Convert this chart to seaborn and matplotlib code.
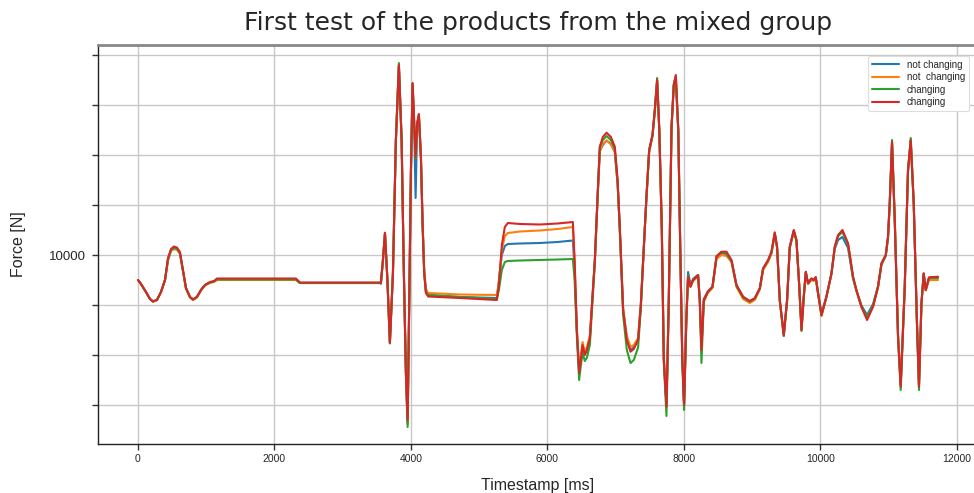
import matplotlib
matplotlib.use("Agg")
import matplotlib.pyplot as plt
import matplotlib.ticker as mticker
import seaborn as sns
import pandas as pd

timestamps = [0, 44, 117, 176, 220, 278, 337, 396, 440, 484, 527, 571, 615, 659, 703, 762, 806, 864, 923, 982,
              1055, 1114, 1158, 2315, 2374, 3546, 3560, 3590, 3620, 3656, 3692, 3737, 3780, 3824, 3864, 3897,
              3927, 3952, 3975, 4000, 4025, 4048, 4069, 4092, 4117, 4147, 4171, 4195, 4220, 4253, 4718, 5260,
              5290, 5333, 5377, 5421, 5600, 5890, 6150, 6374, 6400, 6432, 6466, 6490, 6516, 6549, 6580, 6623,
              6696, 6740, 6769, 6813, 6868, 6931, 6989, 7030, 7062, 7111, 7165, 7219, 7267, 7330, 7370, 7404,
              7450, 7492, 7541, 7575, 7609, 7641, 7677, 7707, 7746, 7780, 7820, 7853, 7883, 7919, 7951, 7978,
              8004, 8037, 8063, 8098, 8136, 8186, 8209, 8234, 8259, 8293, 8352, 8420, 8479, 8552, 8626, 8699,
              8772, 8869, 8967, 9040, 9114, 9162, 9235, 9285, 9333, 9367, 9407, 9465, 9514, 9553, 9612, 9651,
              9690, 9725, 9758, 9788, 9821, 9871, 9905, 9934, 9968, 10018, 10090, 10164, 10212, 10261, 10325,
              10407, 10481, 10530, 10604, 10686, 10774, 10847, 10897, 10960, 10993, 11018, 11052, 11092, 11140,
              11179, 11238, 11286, 11326, 11370, 11416, 11447, 11483, 11516, 11546, 11594, 11726]

# changing (red, drawn last)
changing_b = [9500, 9420, 9260, 9120, 9070, 9100, 9260, 9500, 9940, 10120, 10170, 10150, 10060, 9700, 9340, 9160, 9110, 9160, 9300, 9400,
              9460, 9480, 9530, 9530, 9450, 9450, 9440, 9900, 10446, 9500, 8240, 9640, 12300, 13800, 12300, 9640,
              7640, 6700, 8960, 11640, 13440, 12640, 11960, 12640, 12820, 11960, 10640, 9640, 9240, 9170, 9140, 9100,
              9400, 10200, 10560, 10640, 10620, 10610, 10630, 10660, 9900, 8500, 7640, 7900, 8200, 8000, 8100, 8340,
              9900, 11300, 12166, 12360, 12446, 12360, 12166, 11500, 10566, 8900, 8300, 8066, 8120, 8300, 9000, 9900,
              11100, 12100, 12400, 12900, 13500, 12500, 10566, 7900, 6966, 9100, 12566, 13400, 13600, 12500, 9900, 7900,
              7000, 8700, 9566, 9366, 9500, 9566, 9600, 9100, 8100, 9100, 9266, 9366, 9966, 10066, 10066, 9900,
              9400, 9166, 9080, 9134, 9334, 9734, 9900, 10066, 10454, 10166, 9100, 8400, 9100, 10166, 10500, 10300,
              9434, 8500, 9166, 9666, 9434, 9534, 9500, 9560, 9234, 8800, 9166, 9634, 10166, 10400, 10500,
              10234, 9566, 9300, 8966, 8700, 8966, 9366, 9834, 10000, 10366, 11040, 12266, 10700, 8366,
              7366, 9366, 11700, 12300, 11034, 8700, 7366, 9034, 9634, 9300, 9554, 9566]

# not changing (blue)
not_changing_a = [9500, 9420, 9260, 9120, 9070, 9100, 9260, 9500, 9900, 10090, 10120, 10110, 10030, 9690, 9340, 9160, 9110, 9160, 9300, 9400,
                  9450, 9470, 9510, 9510, 9440, 9440, 9430, 9890, 10430, 9500, 8250, 9640, 12280, 13780, 12280, 9640,
                  7660, 6640, 8960, 11620, 13420, 12600, 11140, 12600, 12800, 11960, 10640, 9660, 9280, 9200, 9160, 9140,
                  9500, 10000, 10180, 10220, 10230, 10240, 10260, 10290, 9700, 8500, 7660, 7900, 8200, 8020, 8100, 8340,
                  9880, 11250, 12080, 12200, 12290, 12220, 12060, 11420, 10520, 8900, 8320, 8100, 8150, 8320, 9000, 9880,
                  11080, 12060, 12380, 12880, 13480, 12480, 10560, 7920, 7000, 9100, 12540, 13380, 13480, 12480, 9900, 7920,
                  7000, 8720, 9660, 9400, 9520, 9580, 9600, 9120, 8200, 9120, 9270, 9360, 9940, 10040, 10020, 9880,
                  9400, 9160, 9070, 9130, 9330, 9720, 9880, 10040, 10420, 10150, 9100, 8420, 9110, 10150, 10470, 10280,
                  9430, 8520, 9170, 9650, 9440, 9520, 9500, 9540, 9240, 8820, 9170, 9620, 10120, 10300, 10360,
                  10140, 9520, 9290, 8990, 8800, 9020, 9380, 9800, 9980, 10340, 11000, 12220, 10680, 8380,
                  7400, 9360, 11660, 12260, 11020, 8720, 7400, 9030, 9620, 9300, 9540, 9560]

# not  changing (orange)
not_changing_b = [9500, 9420, 9260, 9120, 9070, 9100, 9260, 9500, 9900, 10090, 10120, 10110, 10030, 9690, 9330, 9150, 9100, 9150, 9290, 9390,
                  9440, 9460, 9500, 9500, 9440, 9440, 9430, 9890, 10430, 9500, 8250, 9640, 12280, 13780, 12280, 9640,
                  7650, 6620, 8960, 11620, 13420, 12620, 11940, 12620, 12800, 11960, 10660, 9700, 9320, 9240, 9210, 9200,
                  9450, 10100, 10380, 10440, 10470, 10490, 10520, 10560, 9800, 8520, 7740, 7960, 8260, 8060, 8160, 8380,
                  9880, 11250, 12080, 12220, 12290, 12220, 12060, 11420, 10520, 8920, 8380, 8160, 8200, 8340, 9020, 9880,
                  11080, 12060, 12380, 12880, 13480, 12480, 10560, 7960, 7060, 9120, 12540, 13400, 13540, 12480, 9900, 7960,
                  7040, 8740, 9560, 9360, 9480, 9540, 9580, 9080, 8200, 9060, 9240, 9340, 9920, 10000, 9980, 9860,
                  9360, 9120, 9040, 9100, 9310, 9700, 9860, 10030, 10420, 10150, 9080, 8380, 9080, 10140, 10480, 10280,
                  9420, 8500, 9150, 9640, 9420, 9500, 9480, 9540, 9220, 8780, 9150, 9620, 10140, 10380, 10480,
                  10220, 9550, 9280, 8950, 8740, 8980, 9360, 9820, 9990, 10350, 11020, 12240, 10700, 8400,
                  7440, 9380, 11680, 12280, 11030, 8720, 7400, 9030, 9620, 9290, 9500, 9500]

# changing (green)
changing_a = [9500, 9420, 9260, 9120, 9070, 9100, 9260, 9500, 9920, 10100, 10140, 10130, 10040, 9690, 9340, 9160, 9110, 9160, 9300, 9400,
              9450, 9470, 9510, 9510, 9440, 9440, 9430, 9890, 10440, 9500, 8230, 9660, 12320, 13840, 12320, 9640,
              7600, 6560, 8920, 11620, 13420, 12620, 11940, 12620, 12800, 11940, 10620, 9640, 9260, 9200, 9160, 9120,
              9300, 9700, 9860, 9880, 9890, 9900, 9910, 9920, 9500, 8400, 7500, 7780, 8040, 7880, 7950, 8200,
              9860, 11280, 12160, 12300, 12380, 12300, 12120, 11450, 10500, 8800, 8100, 7840, 7900, 8150, 8920, 9880,
              11100, 12100, 12400, 12900, 13540, 12500, 10540, 7860, 6780, 9060, 12560, 13420, 13580, 12500, 9880, 7880,
              6900, 8680, 9600, 9380, 9500, 9570, 9600, 9060, 7840, 9080, 9260, 9360, 9980, 10060, 10020, 9880,
              9380, 9150, 9070, 9130, 9330, 9720, 9890, 10050, 10440, 10160, 9080, 8380, 9080, 10160, 10490, 10300,
              9420, 8480, 9160, 9660, 9430, 9520, 9500, 9550, 9230, 8790, 9160, 9630, 10150, 10380, 10460,
              10220, 9550, 9290, 8970, 8760, 8980, 9370, 9830, 10000, 10360, 11040, 12300, 10700, 8340,
              7300, 9340, 11700, 12340, 11040, 8680, 7300, 9020, 9630, 9300, 9540, 9540]

series_labels = ["not changing", "not  changing", "changing", "changing"]
series_values = [not_changing_a, not_changing_b, changing_a, changing_b]
series_colors = ["#1f77b4", "#ff7f0e", "#2ca02c", "#d62728"]

x_ticks = [0, 2000, 4000, 6000, 8000, 10000, 12000]
y_ticks = [7000, 8000, 9000, 10000, 11000, 12000, 13000, 14000]
y_labeled = [10000]

sns.set_theme(style="whitegrid")
plt.rcParams["font.family"] = ["Liberation Sans", "DejaVu Sans"]

fig = plt.figure(figsize=(9.74, 4.93), dpi=100)
ax = fig.add_axes([98 / 974, (493 - 444) / 493, 880 / 974, 399 / 493])

for lab, vals, col in zip(series_labels, series_values, series_colors):
    df = pd.DataFrame({"Timestamp": timestamps, "Force": vals})
    sns.lineplot(data=df, x="Timestamp", y="Force", ax=ax, label=lab, color=col,
                 linewidth=1.5, estimator=None, sort=False)

ax.set_xlim(-586, 12312)
ax.set_ylim(6220, 14200)
ax.set_xticks(x_ticks)
ax.set_xticklabels([str(v) for v in x_ticks], fontsize=7.5)
ax.set_yticks(y_ticks)
ax.yaxis.set_major_formatter(mticker.FuncFormatter(lambda v, p: f"{int(v)}" if int(round(v)) in y_labeled else ""))
ax.tick_params(axis="y", labelsize=9.5, length=4, width=1, color="#333333", left=True, pad=5)
ax.tick_params(axis="x", length=4, width=1, color="#333333", bottom=True)

ax.grid(True, color="#c8c8c8", linewidth=1.0)
for side in ["left", "bottom"]:
    ax.spines[side].set_color("#222222")
    ax.spines[side].set_linewidth(1.0)
ax.spines["top"].set_color("#888888")
ax.spines["top"].set_linewidth(2.0)
ax.spines["right"].set_color("#888888")

ax.set_xlabel("Timestamp [ms]", fontsize=11.5, labelpad=10)
ax.set_ylabel("Force [N]", fontsize=11.5, labelpad=16)
title = "First test of the products from the mixed group"
ax.set_title(title, fontsize=18, pad=11, family=["DejaVu Sans"])

leg = ax.legend(loc="upper right", fontsize=7, frameon=True, framealpha=1.0,
                edgecolor="#dddddd", handlelength=2.8, borderpad=0.4, labelspacing=0.25,
                bbox_to_anchor=(0.995, 0.985))
leg.get_frame().set_linewidth(0.8)

fig.savefig("out.png", dpi=100)
